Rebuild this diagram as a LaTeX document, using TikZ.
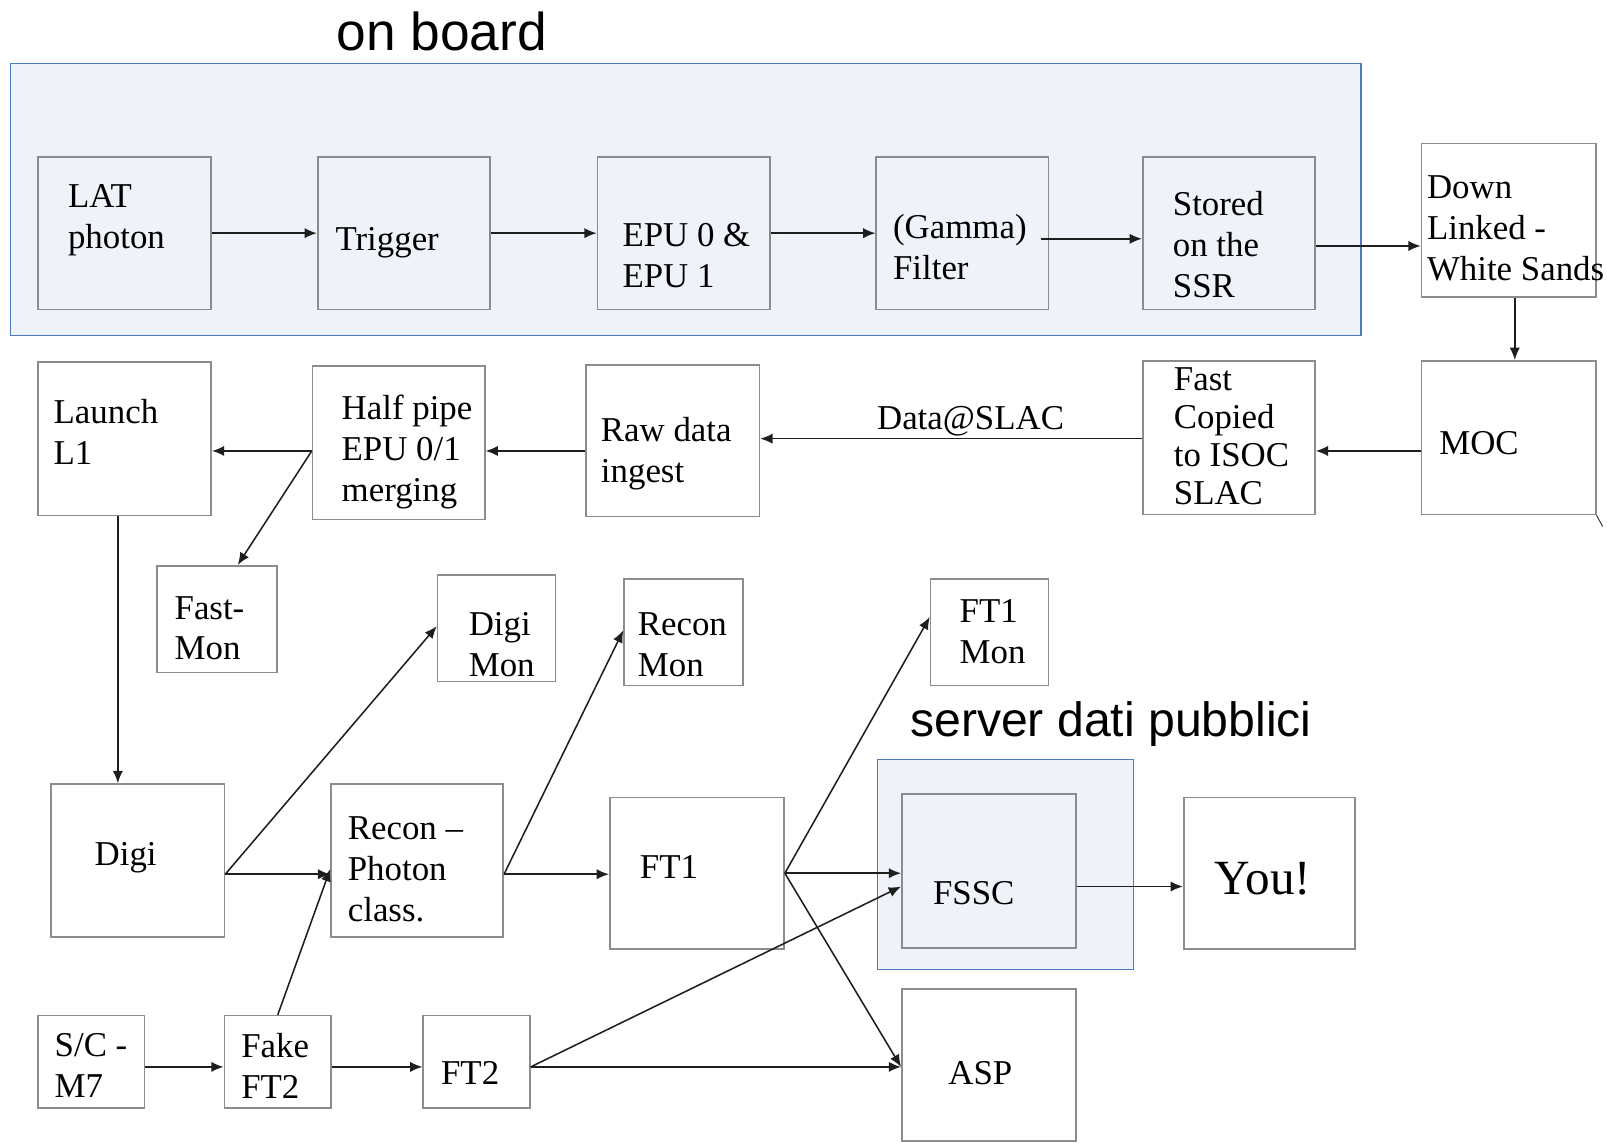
\documentclass[tikz,border=0pt]{standalone}
\usepackage{fontspec}
\setmainfont{Liberation Serif}
\newfontfamily\sansf{Liberation Sans}
\usetikzlibrary{arrows.meta,calc}
\definecolor{panelfill}{HTML}{EFF3F9}
\definecolor{panelline}{HTML}{4F79BE}
\definecolor{boxline}{HTML}{8C8C8C}
\definecolor{arrline}{HTML}{1E1E1E}
\tikzset{
  panel/.style={draw=panelline, fill=panelfill, line width=0.6pt, inner sep=0pt},
  box/.style={draw=boxline, line width=0.8pt, inner sep=0pt, minimum width=84pt, minimum height=74.5pt},
  smallbox/.style={draw=boxline, line width=0.8pt, inner sep=0pt, minimum width=52pt, minimum height=45pt},
  monbox/.style={draw=boxline, line width=0.8pt, inner sep=0pt, minimum width=58pt, minimum height=52pt},
  lbl/.style={anchor=west, align=left, inner sep=0pt, font=\fontsize{17}{20}\selectfont, text=black},
  title/.style={inner sep=0pt, text=black},
  arr/.style={draw=arrline, line width=0.75pt, -{Latex[length=6pt,width=5pt]}},
  ln/.style={draw=arrline, line width=0.7pt},
}
\begin{document}
\begin{tikzpicture}[x=0.5pt,y=-0.5pt]
\useasboundingbox (0,0) rectangle (1568,1115);

% panels
\node[panel, minimum width=659pt, minimum height=132.5pt] (onboard) at (669,194.5) {};
\node[title, font=\sansf\fontsize{26}{30}\selectfont] (onboardt) at (431,31) {on board};
\node[panel, minimum width=125pt, minimum height=102.5pt] (fsscpanel) at (981,843.5) {};
\node[title, font=\sansf\fontsize{23.5}{28}\selectfont] (servert) at (1084,706) {server dati pubblici};

% row 1
\node[box, minimum width=84.5pt] (lat) at (121.5,227.5) {};
\node[box] (trig) at (394,227.5) {};
\node[box] (epu) at (667,227.5) {};
\node[box] (filt) at (939,227.5) {};
\node[box] (stored) at (1199,227.5) {};
\node[box, minimum width=85pt, minimum height=75pt] (down) at (1472,215) {};

\node[lbl] (latt) at (66,215) {LAT\\photon};
\node[lbl] (trigt) at (327,237) {Trigger};
\node[lbl] (eput) at (607,249) {EPU 0 \&\\EPU 1};
\node[lbl] (filtt) at (871,241) {(Gamma)\\Filter};
\node[lbl] (storedt) at (1144,239) {Stored\\on the\\SSR};
\node[lbl] (downt) at (1392,223) {Down\\Linked -\\White Sands};

% row 2
\node[box, minimum width=85pt, minimum height=75pt] (moc) at (1472,427) {};
\node[box, minimum height=75pt] (fast) at (1199,427) {};
\node[box, minimum width=84.5pt, minimum height=74pt] (raw) at (656.5,430) {};
\node[box, minimum height=75pt] (half) at (389,432) {};
\node[box, minimum width=84.5pt, minimum height=75pt] (launch) at (121.5,428) {};

\node[lbl] (moct) at (1404,432) {MOC};
\node[lbl, font=\fontsize{17}{18.5}\selectfont] (fastt) at (1145,426) {Fast\\Copied\\to ISOC\\SLAC};
\node[lbl] (rawt) at (586,443) {Raw data\\ingest};
\node[lbl] (halft) at (333,441) {Half pipe\\EPU 0/1\\merging};
\node[lbl] (launcht) at (52,421) {Launch\\L1};
\node[lbl, anchor=center] (datat) at (947,411) {Data@SLAC};

% monitors
\node[monbox, minimum width=58.5pt] (fastmon) at (211.5,604) {};
\node[monbox, minimum width=57.5pt] (digimon) at (484.5,613) {};
\node[monbox] (reconmon) at (667,617) {};
\node[monbox, minimum width=57.5pt] (ft1mon) at (965.5,617) {};
\node[lbl] (fastmont) at (170,613) {Fast-\\Mon};
\node[lbl] (digimont) at (457,629) {Digi\\Mon};
\node[lbl] (reconmont) at (622,629) {Recon\\Mon};
\node[lbl] (ft1mont) at (936,616) {FT1\\Mon};

% row 3
\node[box, minimum width=84.5pt] (digi) at (134.5,839.5) {};
\node[box] (recon) at (407,839.5) {};
\node[box, minimum width=85pt, minimum height=74pt] (ft1) at (680,852) {};
\node[box, minimum width=85pt, minimum height=75pt] (fssc) at (965,850) {};
\node[box, minimum width=83.5pt, minimum height=74pt] (you) at (1238.5,852) {};
\node[box, minimum width=85pt, minimum height=74pt] (asp) at (965,1039) {};

\node[lbl] (digit) at (92,837) {Digi};
\node[lbl] (recont) at (339,848) {Recon –\\Photon\\class.};
\node[lbl] (ft1t) at (624,846) {FT1};
\node[lbl] (fssct) at (910,871) {FSSC};
\node[lbl, font=\fontsize{24}{28}\selectfont] (yout) at (1185,857) {You!};
\node[lbl] (aspt) at (925,1047) {ASP};

% row 4
\node[smallbox] (sc) at (89,1036) {};
\node[smallbox] (fake) at (271,1036) {};
\node[smallbox] (ft2) at (465,1036) {};
\node[lbl] (sct) at (53,1040) {S/C -\\M7};
\node[lbl] (faket) at (235,1040) {Fake\\FT2};
\node[lbl] (ft2t) at (430,1047) {FT2};

% connectors row 1
\draw[arr] (lat.east) -- (trig.west);
\draw[arr] (trig.east) -- (epu.west);
\draw[arr] (epu.east) -- (filt.west);
\draw[arr] ([xshift=-4pt,yshift=-2.75pt]filt.east) -- ([yshift=-2.75pt]stored.west);
\draw[arr] ([yshift=-6.25pt]stored.east) -- ([yshift=-6.25pt]stored.east -| down.west);
\draw[arr] ([xshift=3pt]down.south) -- ([xshift=3pt]moc.north);

% connectors row 2
\draw[arr] ([yshift=-6.5pt]moc.west) -- ([yshift=-6.5pt]moc.west -| fast.east);
\draw[arr] ([yshift=-0.5pt]fast.west) -- ([yshift=-0.5pt]fast.west -| raw.east);
\draw[arr] ([yshift=-5pt]raw.west) -- ([yshift=-5pt]raw.west -| half.east);
\draw[arr] ([yshift=-4pt]half.west) -- ([yshift=-4pt]half.west -| launch.east);
\draw[arr] ([yshift=-4pt]half.west) -- ([xshift=10.25pt]fastmon.north);
\draw[arr] ([xshift=-3.25pt]launch.south) -- ([xshift=-3.25pt]launch.south |- digi.north);
\draw[ln, line width=0.4pt] (moc.south east) -- ++(3pt,-5.5pt);

% connectors row 3
\draw[arr] ([yshift=-6.75pt]digi.east) -- ([yshift=1pt]digimon.west);
\draw[arr] ([yshift=-6.75pt]digi.east) -- ([yshift=-6.75pt]recon.west);
\draw[arr] (fake.north) -- ([yshift=-4.25pt]recon.west);
\draw[arr] ([yshift=-6.75pt]recon.east) -- ([yshift=1pt]reconmon.west);
\draw[arr] ([yshift=-6.75pt]recon.east) -- ([yshift=-0.5pt]ft1.west);
\draw[arr] (ft1.east) -- ([yshift=7.5pt]ft1mon.west);
\draw[arr] (ft1.east) -- ([yshift=-1pt]fssc.west);
\draw[arr] (ft1.east) -- ([yshift=-1pt]asp.west);
\draw[arr] ([yshift=-7.5pt]fssc.east) -- ([yshift=-7.5pt]fssc.east -| you.west);

% connectors row 4
\draw[arr] ([yshift=-2.5pt]sc.east) -- ([yshift=-2.5pt]fake.west);
\draw[arr] ([yshift=-2.5pt]fake.east) -- ([yshift=-2.5pt]ft2.west);
\draw[arr] ([yshift=-2.5pt]ft2.east) -- ([yshift=-7.5pt]fssc.west);
\draw[arr] ([yshift=-2.5pt]ft2.east) -- ([yshift=-2.5pt]ft2.east -| asp.west);
\end{tikzpicture}
\end{document}
